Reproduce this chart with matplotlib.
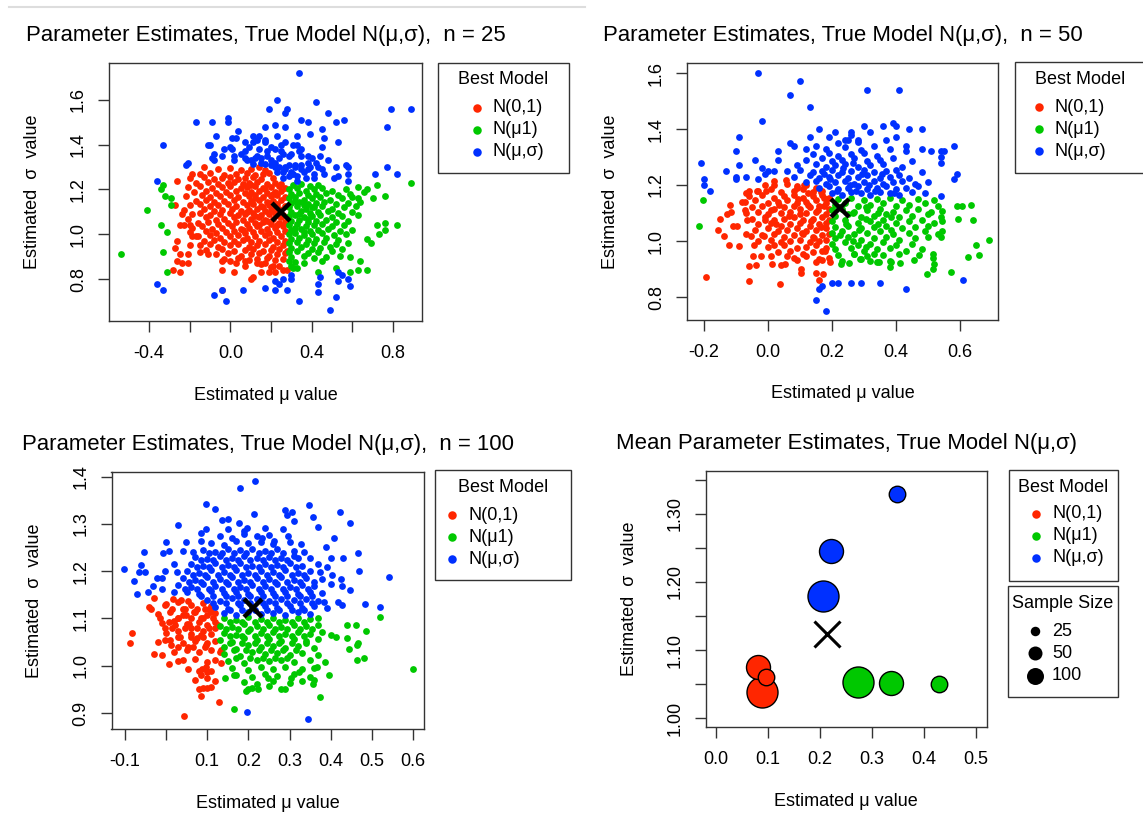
import numpy as np
import matplotlib.pyplot as plt
from matplotlib.patches import Rectangle
from matplotlib.lines import Line2D

plt.rcParams['font.family'] = ['Liberation Sans', 'DejaVu Sans']

W, H = 1143, 814
RED, GREEN, BLUE = '#ff2600', '#00c800', '#0030ff'
model_labels = ['N(0,1)', 'N(\u03bc1)', 'N(\u03bc,\u03c3)']
model_colors = [RED, GREEN, BLUE]

# ---------------- n = 25 ----------------
red_25 = [
    (-0.26, 1.24), (-0.19, 1.27), (-0.13, 1.30), (-0.27, 1.13), (-0.24, 1.09), (-0.25, 1.04), (-0.23, 1.04),
    (-0.20, 1.04), (-0.26, 0.97), (-0.27, 0.94), (-0.25, 0.91), (-0.26, 0.88), (-0.24, 0.87), (-0.21, 0.87),
    (-0.21, 0.91), (-0.28, 0.84), (-0.25, 0.83), (-0.04, 0.84), (0.02, 0.83), (-0.04, 0.75), (0.10, 0.80),
    (0.11, 0.81), (0.15, 0.83), (0.19, 0.83), (0.22, 0.83), (0.26, 0.84), (0.28, 0.84), (0.13, 0.87),
    (0.17, 0.87), (0.21, 0.86), (0.07, 0.88), (0.03, 0.87), (0.00, 0.88), (-0.04, 0.88), (-0.11, 0.91),
    (-0.15, 0.92), (-0.20, 0.95), (-0.19, 0.99), (-0.17, 0.99),
    (-0.06, 1.29), (0.00, 1.295), (0.05, 1.285), (0.10, 1.29), (0.14, 1.30), (0.17, 1.285),
    (-0.15, 1.27), (-0.10, 1.275), (-0.03, 1.265), (0.03, 1.27), (0.08, 1.275), (0.12, 1.265), (0.16, 1.27), (0.19, 1.275),
    (-0.20, 1.25), (-0.13, 1.255), (-0.08, 1.245), (-0.04, 1.25), (0.00, 1.255), (0.04, 1.245), (0.07, 1.25),
    (0.11, 1.255), (0.15, 1.245), (0.21, 1.25),
    (-0.17, 1.23), (-0.11, 1.235), (-0.06, 1.225), (-0.01, 1.23), (0.02, 1.235), (0.06, 1.225), (0.09, 1.23),
    (0.13, 1.235), (0.18, 1.225), (0.22, 1.23), (0.25, 1.225),
    (-0.21, 1.21), (-0.15, 1.215), (-0.09, 1.205), (-0.04, 1.21), (0.00, 1.215), (0.05, 1.205), (0.08, 1.21),
    (0.12, 1.215), (0.16, 1.205), (0.20, 1.21), (0.24, 1.215), (0.27, 1.205),
    (-0.18, 1.19), (-0.12, 1.195), (-0.07, 1.185), (-0.02, 1.19), (0.03, 1.195), (0.07, 1.185), (0.10, 1.19),
    (0.14, 1.195), (0.18, 1.185), (0.22, 1.19), (0.25, 1.195),
    (-0.22, 1.17), (-0.14, 1.175), (-0.10, 1.165), (-0.05, 1.17), (0.00, 1.175), (0.04, 1.165), (0.09, 1.17),
    (0.12, 1.175), (0.16, 1.165), (0.20, 1.17), (0.23, 1.175), (0.27, 1.165),
    (-0.17, 1.15), (-0.12, 1.155), (-0.08, 1.145), (-0.03, 1.15), (0.02, 1.155), (0.06, 1.145), (0.10, 1.15),
    (0.14, 1.155), (0.18, 1.145), (0.21, 1.15), (0.25, 1.155),
    (-0.20, 1.13), (-0.15, 1.135), (-0.10, 1.125), (-0.06, 1.13), (-0.01, 1.135), (0.03, 1.125), (0.08, 1.13),
    (0.11, 1.135), (0.15, 1.125), (0.19, 1.13), (0.23, 1.135), (0.27, 1.125),
    (-0.23, 1.11), (-0.13, 1.115), (-0.08, 1.105), (-0.04, 1.11), (0.01, 1.115), (0.05, 1.105), (0.09, 1.11),
    (0.13, 1.115), (0.17, 1.105), (0.20, 1.11), (0.24, 1.115),
    (-0.19, 1.09), (-0.15, 1.095), (-0.10, 1.085), (-0.05, 1.09), (0.00, 1.095), (0.04, 1.085), (0.07, 1.09),
    (0.11, 1.095), (0.15, 1.085), (0.19, 1.09), (0.22, 1.095), (0.26, 1.085),
    (-0.21, 1.07), (-0.12, 1.075), (-0.07, 1.065), (-0.03, 1.07), (0.02, 1.075), (0.06, 1.065), (0.10, 1.07),
    (0.14, 1.075), (0.17, 1.065), (0.21, 1.07), (0.25, 1.075),
    (-0.16, 1.05), (-0.11, 1.055), (-0.06, 1.045), (-0.01, 1.05), (0.03, 1.055), (0.08, 1.045), (0.12, 1.05),
    (0.16, 1.055), (0.20, 1.045), (0.24, 1.05), (0.27, 1.055),
    (-0.19, 1.03), (-0.14, 1.035), (-0.09, 1.025), (-0.04, 1.03), (0.01, 1.035), (0.05, 1.025), (0.09, 1.03),
    (0.13, 1.035), (0.18, 1.025), (0.22, 1.03), (0.26, 1.035),
    (-0.20, 1.01), (-0.12, 1.015), (-0.07, 1.005), (-0.02, 1.01), (0.02, 1.015), (0.07, 1.005), (0.11, 1.01),
    (0.15, 1.015), (0.19, 1.005), (0.23, 1.01), (0.27, 1.015),
    (-0.16, 0.99), (-0.10, 0.995), (-0.05, 0.985), (0.00, 0.99), (0.04, 0.995), (0.08, 0.985), (0.12, 0.99),
    (0.17, 0.995), (0.21, 0.985), (0.25, 0.99),
    (-0.13, 0.97), (-0.08, 0.975), (-0.03, 0.965), (0.02, 0.97), (0.06, 0.975), (0.10, 0.965), (0.14, 0.97),
    (0.19, 0.975), (0.23, 0.965), (0.27, 0.97),
    (-0.15, 0.95), (-0.10, 0.955), (-0.06, 0.945), (0.00, 0.95), (0.04, 0.955), (0.09, 0.945), (0.13, 0.95),
    (0.17, 0.955), (0.21, 0.945), (0.26, 0.95),
    (-0.12, 0.93), (-0.04, 0.935), (0.02, 0.925), (0.07, 0.93), (0.11, 0.935), (0.16, 0.925), (0.20, 0.93),
    (0.24, 0.935), (0.28, 0.925),
    (-0.07, 0.91), (-0.01, 0.915), (0.05, 0.905), (0.10, 0.91), (0.14, 0.915), (0.19, 0.905), (0.23, 0.91), (0.27, 0.915),
    (-0.03, 0.89), (0.04, 0.895), (0.09, 0.885), (0.13, 0.89), (0.18, 0.895), (0.22, 0.885), (0.26, 0.89),
    (0.07, 0.86), (0.15, 0.865), (0.20, 0.855), (0.24, 0.86),
    (0.12, 1.16), (0.16, 1.12), (0.20, 1.14), (0.08, 1.10), (0.12, 1.08), (0.18, 1.06), (0.22, 1.12),
    (0.14, 1.04), (0.06, 1.02), (0.17, 1.20), (0.10, 1.22), (0.21, 1.18), (0.24, 1.08), (0.23, 1.04),
]
green_25 = [
    (-0.54, 0.91), (-0.41, 1.11), (-0.34, 1.20), (-0.33, 1.22), (-0.32, 1.17), (-0.29, 1.16), (-0.29, 1.13),
    (-0.34, 1.04), (-0.31, 1.01), (-0.33, 0.92), (-0.31, 0.83), (0.89, 1.23), (0.82, 1.04), (0.76, 1.05),
    (0.76, 1.02), (0.72, 1.04), (0.73, 1.00), (0.67, 0.98), (0.69, 0.96), (0.67, 0.84), (0.64, 0.88),
    (0.63, 0.84), (0.59, 0.83), (0.59, 0.90), (0.52, 0.85), (0.43, 0.83), (0.36, 0.87), (0.33, 0.85),
    (0.76, 1.17), (0.72, 1.22), (0.70, 1.16), (0.67, 1.20), (0.66, 1.19), (0.63, 1.21), (0.63, 1.16),
    (0.31, 1.22), (0.35, 1.225), (0.39, 1.215), (0.43, 1.22),
    (0.29, 1.20), (0.33, 1.205), (0.37, 1.195), (0.41, 1.20), (0.45, 1.205), (0.50, 1.195), (0.57, 1.20),
    (0.30, 1.18), (0.34, 1.185), (0.38, 1.175), (0.42, 1.18), (0.47, 1.185), (0.53, 1.175), (0.59, 1.18),
    (0.29, 1.16), (0.32, 1.165), (0.36, 1.155), (0.40, 1.16), (0.44, 1.165), (0.49, 1.155), (0.55, 1.16), (0.60, 1.165),
    (0.30, 1.14), (0.34, 1.145), (0.38, 1.135), (0.42, 1.14), (0.46, 1.145), (0.52, 1.135), (0.58, 1.14), (0.64, 1.145),
    (0.29, 1.12), (0.33, 1.125), (0.37, 1.115), (0.41, 1.12), (0.45, 1.125), (0.50, 1.115), (0.56, 1.12), (0.62, 1.125),
    (0.30, 1.10), (0.35, 1.105), (0.39, 1.095), (0.43, 1.10), (0.48, 1.105), (0.53, 1.095), (0.60, 1.10),
    (0.29, 1.08), (0.32, 1.085), (0.36, 1.075), (0.40, 1.08), (0.44, 1.085), (0.50, 1.075), (0.55, 1.08), (0.63, 1.085),
    (0.30, 1.06), (0.34, 1.065), (0.38, 1.055), (0.42, 1.06), (0.47, 1.065), (0.52, 1.055), (0.58, 1.06),
    (0.29, 1.04), (0.33, 1.045), (0.37, 1.035), (0.41, 1.04), (0.45, 1.045), (0.50, 1.035), (0.56, 1.04),
    (0.30, 1.02), (0.35, 1.025), (0.39, 1.015), (0.43, 1.02), (0.48, 1.025), (0.54, 1.015), (0.60, 1.02),
    (0.29, 1.00), (0.32, 1.005), (0.36, 0.995), (0.40, 1.00), (0.45, 1.005), (0.51, 0.995), (0.57, 1.00),
    (0.30, 0.98), (0.34, 0.985), (0.38, 0.975), (0.42, 0.98), (0.47, 0.985), (0.53, 0.975),
    (0.29, 0.96), (0.33, 0.965), (0.37, 0.955), (0.41, 0.96), (0.46, 0.965), (0.52, 0.955), (0.58, 0.96),
    (0.30, 0.94), (0.35, 0.945), (0.40, 0.935), (0.44, 0.94), (0.49, 0.945), (0.55, 0.935),
    (0.29, 0.92), (0.33, 0.925), (0.38, 0.915), (0.43, 0.92), (0.50, 0.925),
    (0.30, 0.90), (0.36, 0.905), (0.41, 0.895), (0.47, 0.90), (0.54, 0.905),
    (0.29, 0.88), (0.32, 0.875), (0.45, 0.88), (0.30, 0.86), (0.31, 0.85),
    (0.32, 1.15), (0.36, 1.13), (0.34, 1.09), (0.38, 1.07), (0.32, 1.03), (0.36, 1.01), (0.40, 1.12),
]
blue_25 = [
    (0.34, 1.72), (0.23, 1.60), (0.19, 1.56), (0.28, 1.56), (0.27, 1.54), (0.42, 1.59), (0.48, 1.54),
    (0.56, 1.51), (0.52, 1.50), (0.35, 1.51), (0.38, 1.50), (0.79, 1.56), (0.89, 1.56), (0.77, 1.48),
    (-0.17, 1.50), (-0.09, 1.50), (-0.01, 1.52), (-0.01, 1.50), (0.17, 1.48), (0.22, 1.49), (0.27, 1.48),
    (0.04, 1.46), (0.39, 1.45), (0.45, 1.47), (0.46, 1.43), (-0.07, 1.44), (0.11, 1.44), (-0.33, 1.40),
    (-0.11, 1.40), (-0.10, 1.40), (-0.03, 1.38), (0.01, 1.43), (0.03, 1.43), (0.07, 1.41), (0.11, 1.41),
    (0.13, 1.42), (0.17, 1.42), (0.17, 1.41), (0.23, 1.44), (0.25, 1.40), (0.31, 1.40), (0.33, 1.40),
    (0.35, 1.38), (0.45, 1.39), (0.53, 1.41), (-0.08, 1.36), (0.01, 1.38), (0.07, 1.37), (0.14, 1.38),
    (0.18, 1.37), (0.22, 1.38), (0.26, 1.36), (-0.21, 1.32), (-0.22, 1.31), (-0.09, 1.34), (-0.08, 1.33),
    (0.02, 1.35), (0.07, 1.34), (0.10, 1.33), (0.13, 1.35), (0.15, 1.34), (0.20, 1.33), (0.24, 1.34),
    (0.29, 1.35), (0.35, 1.35), (0.38, 1.32), (0.40, 1.34), (0.42, 1.32), (0.11, 1.315), (0.17, 1.315),
    (0.22, 1.30), (0.23, 1.28), (0.27, 1.30), (0.32, 1.31), (0.30, 1.28), (0.35, 1.29), (0.39, 1.30),
    (0.45, 1.29), (0.46, 1.27), (0.52, 1.30), (0.57, 1.31), (0.58, 1.30), (0.71, 1.27), (0.77, 1.30),
    (0.82, 1.27), (0.29, 1.26), (0.33, 1.24), (0.31, 1.27), (0.37, 1.25), (0.41, 1.25), (0.51, 1.25),
    (0.53, 1.26), (0.58, 1.27), (0.58, 1.24), (-0.36, 1.24), (0.26, 1.28),
    (0.30, 0.82), (0.30, 0.80), (0.22, 0.79), (0.24, 0.78), (0.26, 0.80), (-0.36, 0.78), (-0.33, 0.75),
    (0.17, 0.76), (0.22, 0.75), (0.28, 0.75), (0.06, 0.75), (-0.04, 0.75), (-0.08, 0.73), (-0.02, 0.70),
    (0.34, 0.70), (0.49, 0.66), (0.52, 0.72), (0.43, 0.74), (0.43, 0.78), (0.44, 0.81), (0.53, 0.83),
    (0.55, 0.82), (0.53, 0.79), (0.58, 0.80), (0.59, 0.77),
    (0.20, 1.31), (0.24, 1.30), (0.27, 1.29), (0.30, 1.27), (0.33, 1.26), (0.36, 1.28), (0.26, 1.25),
    (0.22, 1.32), (0.29, 1.31), (0.32, 1.30), (0.35, 1.31), (0.38, 1.29), (0.41, 1.27), (0.43, 1.30),
    (0.15, 1.32), (0.12, 1.34), (0.18, 1.35), (0.08, 1.33), (0.05, 1.36), (0.02, 1.33), (0.20, 1.39),
    (0.25, 1.37), (0.30, 1.36), (0.34, 1.37), (0.38, 1.35), (0.44, 1.35), (0.48, 1.33), (0.27, 1.41),
    (0.33, 1.44), (0.14, 1.44), (0.09, 1.39), (-0.04, 1.35), (0.00, 1.39),
]
truth_25 = (0.247, 1.100)

# ---------------- n = 50 ----------------
red_50 = [
    (-0.194, 0.872), (-0.058, 0.859), (0.039, 0.848), (-0.151, 1.08), (-0.128, 1.097), (-0.156, 1.041),
    (-0.138, 1.017), (-0.123, 0.986), (-0.09, 0.984), (-0.109, 1.053), (-0.097, 1.053), (-0.118, 1.13),
    (-0.114, 1.103), (-0.068, 1.172), (-0.06, 1.178), (-0.034, 1.179), (-0.072, 1.138), (-0.072, 1.112),
    (-0.066, 1.076), (-0.07, 1.026), (-0.053, 1.017), (-0.045, 0.987), (-0.048, 0.946), (-0.058, 0.912),
    (-0.036, 0.916), (-0.022, 0.948), (-0.011, 1.017), (0.01, 0.946), (0.013, 0.917), (0.042, 0.916),
    (0.054, 0.919), (0.06, 0.946), (0.018, 0.986), (0.091, 0.931), (0.102, 0.901), (0.104, 0.886),
    (0.15, 0.886), (0.172, 0.881), (0.161, 0.86), (0.15, 0.924), (0.169, 0.934), (0.195, 0.924),
    (0.179, 0.963), (-0.01, 1.201), (-0.005, 1.178), (0.018, 1.213), (0.057, 1.219), (0.091, 1.19),
    (0.112, 1.201), (0.149, 1.188), (0.167, 1.174), (0.174, 1.154), (-0.008, 1.076), (0.011, 1.112),
    (0.02, 1.20), (0.06, 1.205), (0.09, 1.195), (0.12, 1.20),
    (-0.03, 1.18), (0.01, 1.185), (0.04, 1.175), (0.08, 1.18), (0.11, 1.185), (0.14, 1.175), (0.17, 1.18),
    (-0.06, 1.16), (-0.02, 1.165), (0.02, 1.155), (0.05, 1.16), (0.08, 1.165), (0.11, 1.155), (0.14, 1.16),
    (0.17, 1.165), (0.19, 1.155),
    (-0.08, 1.14), (-0.04, 1.145), (0.00, 1.135), (0.03, 1.14), (0.06, 1.145), (0.09, 1.135), (0.12, 1.14),
    (0.15, 1.145), (0.18, 1.135),
    (-0.05, 1.12), (-0.02, 1.125), (0.02, 1.115), (0.05, 1.12), (0.08, 1.125), (0.10, 1.115), (0.13, 1.12),
    (0.16, 1.125), (0.19, 1.115),
    (-0.07, 1.10), (-0.03, 1.105), (0.00, 1.095), (0.04, 1.10), (0.07, 1.105), (0.10, 1.095), (0.12, 1.10),
    (0.15, 1.105), (0.18, 1.095),
    (-0.05, 1.08), (-0.01, 1.085), (0.02, 1.075), (0.05, 1.08), (0.08, 1.085), (0.11, 1.075), (0.14, 1.08),
    (0.17, 1.085), (0.19, 1.075),
    (-0.03, 1.06), (0.01, 1.065), (0.04, 1.055), (0.07, 1.06), (0.10, 1.065), (0.13, 1.055), (0.16, 1.06), (0.18, 1.065),
    (-0.04, 1.04), (0.00, 1.045), (0.03, 1.035), (0.06, 1.04), (0.09, 1.045), (0.12, 1.035), (0.15, 1.04), (0.18, 1.045),
    (-0.02, 1.02), (0.02, 1.025), (0.05, 1.015), (0.08, 1.02), (0.11, 1.025), (0.14, 1.015), (0.17, 1.02), (0.19, 1.025),
    (-0.03, 1.00), (0.01, 1.005), (0.04, 0.995), (0.07, 1.00), (0.10, 1.005), (0.13, 0.995), (0.16, 1.00), (0.18, 1.005),
    (0.00, 0.98), (0.05, 0.985), (0.09, 0.975), (0.12, 0.98), (0.15, 0.985), (0.18, 0.975),
    (0.03, 0.96), (0.07, 0.965), (0.11, 0.955), (0.14, 0.96), (0.17, 0.965),
    (0.08, 0.94), (0.12, 0.945), (0.16, 0.935), (0.19, 0.94),
    (0.095, 1.15), (0.125, 1.13), (0.155, 1.11), (0.065, 1.09), (0.135, 1.07), (0.165, 1.05), (0.105, 1.03),
    (0.145, 1.01), (0.035, 1.13), (0.175, 1.125), (0.025, 1.06), (0.125, 1.17),
]
green_50 = [
    (-0.204, 1.146), (-0.214, 1.053), (0.591, 1.124), (0.606, 1.124), (0.636, 1.13), (0.593, 1.08),
    (0.641, 1.076), (0.691, 1.004), (0.65, 0.986), (0.66, 0.949), (0.626, 0.942), (0.573, 0.888),
    (0.515, 0.953), (0.516, 0.94), (0.518, 0.918), (0.515, 0.90), (0.497, 0.884), (0.541, 1.015),
    (0.545, 1.035), (0.545, 1.071), (0.545, 1.109), (0.518, 1.148), (0.472, 0.95), (0.455, 0.931),
    (0.414, 0.922), (0.382, 0.907), (0.384, 0.924), (0.346, 0.924), (0.318, 0.929), (0.289, 0.935),
    (0.252, 0.922), (0.228, 0.918), (0.268, 0.955), (0.332, 0.955),
    (0.22, 1.15), (0.26, 1.155), (0.30, 1.145), (0.34, 1.15), (0.38, 1.155), (0.42, 1.145), (0.47, 1.15),
    (0.21, 1.13), (0.24, 1.135), (0.28, 1.125), (0.32, 1.13), (0.36, 1.135), (0.40, 1.125), (0.44, 1.13),
    (0.49, 1.135), (0.53, 1.125),
    (0.20, 1.11), (0.23, 1.115), (0.27, 1.105), (0.31, 1.11), (0.35, 1.115), (0.39, 1.105), (0.43, 1.11),
    (0.47, 1.115), (0.51, 1.105),
    (0.21, 1.09), (0.25, 1.095), (0.29, 1.085), (0.33, 1.09), (0.37, 1.095), (0.41, 1.085), (0.45, 1.09),
    (0.50, 1.095), (0.54, 1.085),
    (0.20, 1.07), (0.24, 1.075), (0.28, 1.065), (0.32, 1.07), (0.36, 1.075), (0.40, 1.065), (0.44, 1.07),
    (0.48, 1.075), (0.52, 1.065),
    (0.21, 1.05), (0.25, 1.055), (0.29, 1.045), (0.33, 1.05), (0.37, 1.055), (0.42, 1.045), (0.46, 1.05), (0.50, 1.055),
    (0.20, 1.03), (0.23, 1.035), (0.27, 1.025), (0.31, 1.03), (0.35, 1.035), (0.39, 1.025), (0.44, 1.03),
    (0.49, 1.035), (0.53, 1.025),
    (0.21, 1.01), (0.25, 1.015), (0.29, 1.005), (0.33, 1.01), (0.37, 1.015), (0.41, 1.005), (0.46, 1.01), (0.50, 1.015),
    (0.20, 0.99), (0.24, 0.995), (0.28, 0.985), (0.32, 0.99), (0.36, 0.995), (0.40, 0.985), (0.45, 0.99),
    (0.21, 0.97), (0.26, 0.975), (0.30, 0.965), (0.34, 0.97), (0.38, 0.975), (0.43, 0.965), (0.48, 0.97),
    (0.22, 0.95), (0.27, 0.955), (0.31, 0.945), (0.36, 0.95), (0.41, 0.955),
    (0.23, 0.93), (0.29, 0.935), (0.34, 0.925), (0.38, 0.93),
    (0.225, 1.12), (0.265, 1.10), (0.305, 1.08), (0.245, 1.06), (0.285, 1.04), (0.225, 1.02), (0.265, 1.00),
    (0.305, 1.12), (0.345, 1.10), (0.345, 1.06), (0.385, 1.04), (0.305, 0.98), (0.385, 1.085),
]
blue_50 = [
    (-0.03, 1.60), (0.10, 1.57), (0.07, 1.52), (0.13, 1.48), (0.31, 1.54), (0.41, 1.54), (-0.02, 1.43),
    (-0.09, 1.37), (-0.10, 1.32), (-0.21, 1.28), (-0.20, 1.22), (-0.20, 1.20), (-0.18, 1.18), (-0.13, 1.25),
    (-0.09, 1.27), (-0.10, 1.23), (-0.10, 1.22), (-0.07, 1.23), (-0.04, 1.29), (-0.02, 1.26), (-0.01, 1.24),
    (-0.03, 1.22), (0.00, 1.25), (0.02, 1.25), (0.03, 1.32), (0.03, 1.29), (0.07, 1.35), (0.08, 1.34),
    (0.12, 1.33), (0.13, 1.37), (0.16, 1.40), (0.15, 1.34), (0.19, 1.37), (0.21, 1.39), (0.24, 1.36),
    (0.25, 1.36), (0.26, 1.38), (0.26, 1.39), (0.28, 1.36), (0.30, 1.41), (0.32, 1.39), (0.33, 1.34),
    (0.36, 1.41), (0.39, 1.42), (0.40, 1.41), (0.40, 1.37), (0.37, 1.36), (0.43, 1.34), (0.43, 1.32),
    (0.44, 1.40), (0.48, 1.40), (0.48, 1.33), (0.51, 1.32), (0.54, 1.32), (0.55, 1.32), (0.58, 1.34),
    (0.54, 1.28), (0.54, 1.30), (0.58, 1.22), (0.59, 1.24), (0.54, 1.16), (0.61, 0.86), (0.43, 0.83),
    (0.35, 0.85), (0.29, 0.85), (0.26, 0.85), (0.22, 0.85), (0.20, 0.85), (0.17, 0.84), (0.16, 0.83),
    (0.15, 0.79), (0.18, 0.75),
    (0.20, 1.17), (0.23, 1.165), (0.26, 1.175), (0.29, 1.17), (0.32, 1.165), (0.35, 1.175), (0.38, 1.17),
    (0.41, 1.165), (0.45, 1.175), (0.49, 1.17),
    (0.16, 1.19), (0.19, 1.195), (0.22, 1.185), (0.25, 1.19), (0.28, 1.195), (0.31, 1.185), (0.34, 1.19),
    (0.37, 1.195), (0.40, 1.185), (0.43, 1.19), (0.47, 1.195),
    (0.12, 1.21), (0.15, 1.215), (0.18, 1.205), (0.21, 1.21), (0.24, 1.215), (0.27, 1.205), (0.30, 1.21),
    (0.33, 1.215), (0.36, 1.205), (0.39, 1.21), (0.42, 1.215), (0.46, 1.205), (0.50, 1.21),
    (0.08, 1.23), (0.13, 1.235), (0.16, 1.225), (0.19, 1.23), (0.22, 1.235), (0.25, 1.225), (0.28, 1.23),
    (0.31, 1.235), (0.35, 1.225), (0.38, 1.23), (0.41, 1.235), (0.44, 1.225),
    (0.06, 1.25), (0.10, 1.255), (0.14, 1.245), (0.17, 1.25), (0.20, 1.255), (0.23, 1.245), (0.26, 1.25),
    (0.30, 1.255), (0.33, 1.245), (0.37, 1.25), (0.40, 1.255), (0.48, 1.245),
    (0.09, 1.27), (0.15, 1.275), (0.18, 1.265), (0.21, 1.27), (0.24, 1.275), (0.28, 1.265), (0.32, 1.27),
    (0.36, 1.275), (0.42, 1.265),
    (0.12, 1.29), (0.17, 1.295), (0.20, 1.285), (0.23, 1.29), (0.27, 1.295), (0.31, 1.285), (0.35, 1.29),
    (0.39, 1.295), (0.45, 1.285),
    (0.14, 1.31), (0.19, 1.315), (0.22, 1.305), (0.26, 1.31), (0.30, 1.315), (0.34, 1.305),
    (0.18, 1.33), (0.24, 1.335), (0.29, 1.325), (0.38, 1.33), (0.22, 1.35), (0.28, 1.355),
    (0.215, 1.18), (0.275, 1.18), (0.335, 1.18), (0.195, 1.22), (0.255, 1.20), (0.315, 1.20), (0.235, 1.26),
    (0.295, 1.24), (0.355, 1.24), (0.265, 1.28), (0.175, 1.24), (0.395, 1.17),
]
truth_50 = (0.226, 1.118)

# ---------------- n = 100 ----------------
red_100 = [
    (-0.082, 1.069), (-0.088, 1.049), (-0.029, 1.144), (-0.041, 1.124), (-0.036, 1.121), (-0.015, 1.10),
    (-0.03, 1.024), (-0.01, 1.022), (0.006, 1.004), (0.041, 1.012), (0.053, 0.993), (0.079, 0.988),
    (0.087, 0.993), (0.098, 0.998), (0.09, 0.952), (0.086, 0.936), (0.099, 0.952), (0.128, 0.923),
    (0.043, 0.893), (0.118, 0.967), (0.11, 0.988), (0.133, 1.005), (0.13, 1.029), (0.134, 1.034),
    (-0.002, 1.079), (-0.002, 1.054), (-0.003, 1.128), (0.017, 1.142), (0.037, 1.139), (0.053, 1.137),
    (0.006, 1.093), (0.021, 1.087), (0.033, 1.061), (0.013, 1.043), (0.053, 1.04), (0.074, 1.058),
    (0.061, 1.079), (0.084, 1.065), (0.096, 1.043), (0.086, 1.10), (0.108, 1.114), (0.095, 1.121),
    (0.118, 1.079), (0.126, 1.086), (0.114, 1.10), (0.069, 1.114), (0.049, 1.107), (0.041, 1.121),
    (0.055, 1.089), (0.029, 1.10), (0.10, 0.987), (0.086, 0.98),
    (0.00, 1.13), (0.03, 1.134), (0.06, 1.128), (0.09, 1.133), (0.11, 1.127),
    (-0.02, 1.11), (0.01, 1.114), (0.04, 1.108), (0.07, 1.113), (0.10, 1.107), (0.12, 1.112),
    (-0.01, 1.09), (0.02, 1.094), (0.05, 1.088), (0.08, 1.093), (0.10, 1.087), (0.12, 1.092),
    (0.00, 1.07), (0.03, 1.074), (0.06, 1.068), (0.09, 1.073), (0.11, 1.067),
    (-0.02, 1.05), (0.01, 1.054), (0.04, 1.048), (0.07, 1.053), (0.10, 1.047), (0.12, 1.052),
    (0.02, 1.03), (0.05, 1.034), (0.08, 1.028), (0.11, 1.033),
    (0.03, 1.01), (0.07, 1.014), (0.10, 1.008), (0.12, 1.013),
    (0.07, 0.97), (0.10, 0.974), (0.08, 0.95), (0.11, 0.954),
    (0.015, 1.12), (0.045, 1.12), (0.075, 1.12), (0.105, 1.12), (0.03, 1.10), (0.06, 1.10), (0.09, 1.10),
    (0.015, 1.08), (0.045, 1.08), (0.075, 1.08), (0.105, 1.08), (0.03, 1.06), (0.06, 1.06), (0.09, 1.06),
    (0.03, 1.04), (0.065, 1.04), (0.095, 1.04),
]
green_100 = [
    (0.60, 0.992), (0.519, 1.104), (0.44, 1.086), (0.462, 1.087), (0.485, 1.074), (0.467, 1.048),
    (0.463, 1.043), (0.445, 1.036), (0.439, 1.059), (0.414, 1.06), (0.40, 1.066), (0.48, 1.017),
    (0.463, 1.013), (0.397, 0.981), (0.375, 0.933), (0.386, 1.007), (0.366, 0.997), (0.165, 0.908),
    (0.144, 0.975), (0.165, 0.981), (0.199, 0.951), (0.195, 0.947), (0.223, 0.951), (0.247, 0.973),
    (0.288, 0.951), (0.304, 0.973), (0.356, 0.961), (0.359, 0.97), (0.324, 0.987),
    (0.14, 1.10), (0.17, 1.096), (0.20, 1.103), (0.23, 1.099), (0.26, 1.102), (0.29, 1.097), (0.32, 1.101),
    (0.35, 1.098), (0.37, 1.102),
    (0.13, 1.085), (0.16, 1.081), (0.19, 1.088), (0.22, 1.084), (0.25, 1.087), (0.28, 1.082), (0.31, 1.086),
    (0.34, 1.083), (0.37, 1.087),
    (0.14, 1.07), (0.17, 1.066), (0.20, 1.073), (0.23, 1.069), (0.26, 1.072), (0.29, 1.067), (0.32, 1.071),
    (0.35, 1.068), (0.38, 1.072),
    (0.13, 1.055), (0.16, 1.051), (0.19, 1.058), (0.22, 1.054), (0.25, 1.057), (0.28, 1.052), (0.31, 1.056),
    (0.34, 1.053), (0.37, 1.057),
    (0.14, 1.04), (0.17, 1.036), (0.20, 1.043), (0.23, 1.039), (0.26, 1.042), (0.29, 1.037), (0.32, 1.041), (0.36, 1.038),
    (0.14, 1.025), (0.18, 1.021), (0.21, 1.028), (0.24, 1.024), (0.27, 1.027), (0.30, 1.022), (0.33, 1.026), (0.37, 1.023),
    (0.15, 1.01), (0.19, 1.006), (0.22, 1.013), (0.25, 1.009), (0.28, 1.012), (0.31, 1.007), (0.35, 1.011),
    (0.16, 0.995), (0.20, 0.991), (0.23, 0.998), (0.26, 0.994), (0.29, 0.997), (0.33, 0.992), (0.36, 0.996),
    (0.17, 0.98), (0.21, 0.976), (0.24, 0.983), (0.27, 0.979), (0.31, 0.982), (0.35, 0.977),
    (0.19, 0.965), (0.22, 0.961), (0.26, 0.968), (0.30, 0.964), (0.33, 0.967),
    (0.21, 0.952), (0.25, 0.956), (0.28, 0.951),
    (0.155, 1.093), (0.185, 1.093), (0.215, 1.093), (0.245, 1.093), (0.275, 1.093), (0.305, 1.093), (0.335, 1.093),
    (0.145, 1.078), (0.175, 1.078), (0.205, 1.078), (0.235, 1.078), (0.265, 1.078), (0.295, 1.078), (0.325, 1.078),
    (0.355, 1.078),
    (0.155, 1.063), (0.185, 1.063), (0.215, 1.063), (0.245, 1.063), (0.275, 1.063), (0.305, 1.063), (0.335, 1.063),
    (0.155, 1.048), (0.185, 1.048), (0.215, 1.048), (0.245, 1.048), (0.275, 1.048), (0.305, 1.048), (0.34, 1.048),
    (0.165, 1.033), (0.195, 1.033), (0.225, 1.033), (0.255, 1.033), (0.285, 1.033), (0.315, 1.033),
    (0.17, 1.017), (0.205, 1.017), (0.235, 1.017), (0.265, 1.017), (0.295, 1.017),
]
blue_100 = [
    (0.216, 1.392), (0.18, 1.377), (0.098, 1.342), (0.118, 1.331), (0.213, 1.322), (0.289, 1.329),
    (0.294, 1.32), (0.305, 1.326), (0.31, 1.306), (0.348, 1.34), (0.423, 1.326), (0.356, 1.314),
    (0.369, 1.293), (0.446, 1.303), (0.285, 1.289), (0.029, 1.298), (0.136, 1.308), (0.15, 1.31),
    (0.176, 1.303), (0.096, 1.289), (0.196, 1.291), (-0.053, 1.241), (-0.103, 1.204), (-0.078, 1.18),
    (-0.072, 1.151), (-0.06, 1.213), (-0.066, 1.199), (-0.052, 1.199), (-0.045, 1.155), (-0.032, 1.168),
    (-0.009, 1.163), (0.00, 1.261), (-0.007, 1.239), (0.006, 1.243), (-0.021, 1.186), (-0.011, 1.185),
    (-0.003, 1.20), (0.019, 1.215), (0.018, 1.155), (0.042, 1.243), (0.065, 1.24), (0.084, 1.265),
    (0.084, 1.281), (0.466, 1.239), (0.47, 1.20), (0.542, 1.187), (0.521, 1.124), (0.484, 1.131),
    (0.447, 1.16), (0.409, 1.271), (0.389, 1.252), (0.429, 1.229), (0.401, 1.229), (0.39, 1.208),
    (0.403, 1.193), (0.425, 1.183), (0.427, 1.169), (0.417, 1.135), (0.428, 1.128), (0.385, 1.135),
    (0.373, 1.199), (0.32, 1.228), (0.335, 1.241), (0.328, 1.257), (0.297, 1.275), (0.262, 1.264),
    (0.234, 1.27), (0.049, 1.261), (0.026, 1.199), (0.197, 0.901), (0.346, 0.887),
    (0.14, 1.112), (0.17, 1.108), (0.20, 1.113), (0.23, 1.109), (0.26, 1.112), (0.29, 1.108), (0.32, 1.113), (0.35, 1.109),
    (0.12, 1.125), (0.15, 1.121), (0.18, 1.128), (0.21, 1.124), (0.24, 1.127), (0.27, 1.122), (0.30, 1.126),
    (0.33, 1.123), (0.36, 1.127), (0.39, 1.122),
    (0.10, 1.14), (0.13, 1.136), (0.16, 1.143), (0.19, 1.139), (0.22, 1.142), (0.25, 1.137), (0.28, 1.141),
    (0.31, 1.138), (0.34, 1.142), (0.37, 1.137),
    (0.05, 1.155), (0.08, 1.151), (0.11, 1.158), (0.14, 1.154), (0.17, 1.157), (0.20, 1.152), (0.23, 1.156),
    (0.26, 1.153), (0.29, 1.157), (0.32, 1.152), (0.35, 1.156), (0.38, 1.153),
    (0.03, 1.17), (0.06, 1.166), (0.09, 1.173), (0.12, 1.169), (0.15, 1.172), (0.18, 1.167), (0.21, 1.171),
    (0.24, 1.168), (0.27, 1.172), (0.30, 1.167), (0.33, 1.171), (0.36, 1.168), (0.40, 1.172),
    (0.04, 1.185), (0.07, 1.181), (0.10, 1.188), (0.13, 1.184), (0.16, 1.187), (0.19, 1.182), (0.22, 1.186),
    (0.25, 1.183), (0.28, 1.187), (0.31, 1.182), (0.34, 1.186), (0.38, 1.183),
    (0.05, 1.20), (0.08, 1.196), (0.11, 1.203), (0.14, 1.199), (0.17, 1.202), (0.20, 1.197), (0.23, 1.201),
    (0.26, 1.198), (0.29, 1.202), (0.32, 1.197), (0.35, 1.201),
    (0.06, 1.215), (0.09, 1.211), (0.12, 1.218), (0.15, 1.214), (0.18, 1.217), (0.21, 1.212), (0.24, 1.216),
    (0.27, 1.213), (0.30, 1.217), (0.33, 1.212), (0.37, 1.216),
    (0.07, 1.23), (0.10, 1.226), (0.13, 1.233), (0.16, 1.229), (0.19, 1.232), (0.22, 1.227), (0.25, 1.231),
    (0.28, 1.228), (0.31, 1.232), (0.35, 1.227),
    (0.09, 1.245), (0.12, 1.241), (0.15, 1.248), (0.18, 1.244), (0.21, 1.247), (0.24, 1.242), (0.27, 1.246), (0.31, 1.243),
    (0.11, 1.26), (0.14, 1.256), (0.17, 1.263), (0.20, 1.259), (0.23, 1.262), (0.26, 1.257), (0.30, 1.261),
    (0.13, 1.275), (0.16, 1.271), (0.19, 1.278), (0.22, 1.274), (0.25, 1.277),
    (0.15, 1.29), (0.19, 1.286), (0.24, 1.292),
    (0.155, 1.118), (0.185, 1.118), (0.215, 1.118), (0.245, 1.118), (0.275, 1.118), (0.305, 1.118), (0.335, 1.118),
    (0.115, 1.133), (0.145, 1.133), (0.175, 1.133), (0.205, 1.133), (0.235, 1.133), (0.265, 1.133), (0.295, 1.133),
    (0.325, 1.133), (0.355, 1.133),
    (0.085, 1.148), (0.115, 1.148), (0.145, 1.148), (0.175, 1.148), (0.205, 1.148), (0.235, 1.148), (0.265, 1.148),
    (0.295, 1.148), (0.325, 1.148), (0.355, 1.148),
    (0.045, 1.163), (0.075, 1.163), (0.105, 1.163), (0.135, 1.163), (0.165, 1.163), (0.195, 1.163), (0.225, 1.163),
    (0.255, 1.163), (0.285, 1.163), (0.315, 1.163), (0.345, 1.163),
    (0.055, 1.178), (0.085, 1.178), (0.115, 1.178), (0.145, 1.178), (0.175, 1.178), (0.205, 1.178), (0.235, 1.178),
    (0.265, 1.178), (0.295, 1.178), (0.325, 1.178), (0.36, 1.178),
    (0.065, 1.193), (0.095, 1.193), (0.125, 1.193), (0.155, 1.193), (0.185, 1.193), (0.215, 1.193), (0.245, 1.193),
    (0.275, 1.193), (0.305, 1.193), (0.335, 1.193),
    (0.075, 1.208), (0.105, 1.208), (0.135, 1.208), (0.165, 1.208), (0.195, 1.208), (0.225, 1.208), (0.255, 1.208),
    (0.285, 1.208), (0.315, 1.208),
    (0.085, 1.223), (0.115, 1.223), (0.145, 1.223), (0.175, 1.223), (0.205, 1.223), (0.235, 1.223), (0.265, 1.223),
    (0.295, 1.223),
    (0.105, 1.238), (0.135, 1.238), (0.165, 1.238), (0.195, 1.238), (0.225, 1.238), (0.255, 1.238), (0.285, 1.238),
]
truth_100 = (0.211, 1.122)

# ---------------- mean estimates ----------------
sample_sizes = [25, 50, 100]
mean_mu_red = [0.096, 0.080, 0.089]
mean_sigma_red = [1.061, 1.075, 1.039]
mean_mu_green = [0.429, 0.336, 0.273]
mean_sigma_green = [1.050, 1.052, 1.053]
mean_mu_blue = [0.348, 0.222, 0.206]
mean_sigma_blue = [1.329, 1.245, 1.179]
truth_mean = (0.213, 1.123)

fig = plt.figure(figsize=(W / 100, H / 100), dpi=100)


def px_axes(x0, y0, x1, y1):
    return fig.add_axes([x0 / W, 1 - y1 / H, (x1 - x0) / W, (y1 - y0) / H])


def fx(x):
    return x / W


def fy(y):
    return 1 - y / H


def style_axes(ax, title, xlim, ylim, xticks, xlabels, yticks, ylabels, box_w, box_h):
    ax.set_xlim(*xlim)
    ax.set_ylim(*ylim)
    ax.set_xticks(xticks)
    ax.set_xticklabels(xlabels)
    ax.set_yticks(yticks)
    ax.set_yticklabels(ylabels, rotation=90, va='center')
    ax.tick_params(axis='both', direction='out', length=8, width=1, color='#333333', labelsize=13)
    ax.tick_params(axis='x', pad=9)
    ax.tick_params(axis='y', pad=8)
    for s in ax.spines.values():
        s.set_color('#333333')
        s.set_linewidth(1)
    ax.set_title(title, fontsize=15.9, pad=16)
    ax.set_xlabel('Estimated \u03bc value', fontsize=13, va='center')
    ax.xaxis.set_label_coords(0.5, -74 / box_h)
    ax.set_ylabel('Estimated  \u03c3  value', fontsize=13, va='center', ha='center')
    ax.yaxis.set_label_coords(-76.5 / box_w, 0.5)


def legend_box(x0, y0, x1, y1, title, title_y, labels, colors, dot_x, text_x, ys, dot_px):
    fig.add_artist(Rectangle((fx(x0), fy(y1)), (x1 - x0) / W, (y1 - y0) / H, transform=fig.transFigure,
                             fill=False, edgecolor='#333333', linewidth=1))
    fig.text(fx((x0 + x1) / 2), fy(title_y), title, ha='center', va='center', fontsize=13)
    for lab, col, y, d in zip(labels, colors, ys, dot_px):
        fig.add_artist(Line2D([fx(dot_x)], [fy(y)], marker='o', markersize=d * 0.72, color=col,
                              markeredgewidth=0, linestyle='none', transform=fig.transFigure))
        fig.text(fx(text_x), fy(y), lab, ha='left', va='center', fontsize=13)


def scatter_panel(ax, red, green, blue, truth):
    for pts, col in [(red, RED), (green, GREEN), (blue, BLUE)]:
        arr = np.array(pts)
        ax.scatter(arr[:, 0], arr[:, 1], s=24, color=col, linewidths=0, zorder=2)
    ax.plot(truth[0], truth[1], marker='x', markersize=13, markeredgewidth=3.2, color='black', zorder=3)


# panel 1
ax1 = px_axes(109, 63, 422, 321)
scatter_panel(ax1, red_25, green_25, blue_25, truth_25)
style_axes(ax1, 'Parameter Estimates, True Model N(\u03bc,\u03c3),  n = 25', (-0.597, 0.943), (0.6125, 1.765),
           [-0.4, -0.2, 0.0, 0.2, 0.4, 0.6, 0.8], ['-0.4', '', '0.0', '', '0.4', '', '0.8'],
           [0.8, 1.0, 1.2, 1.4, 1.6], ['0.8', '1.0', '1.2', '1.4', '1.6'], 313, 258)
legend_box(438, 63, 569, 173, 'Best Model', 80, model_labels, model_colors, 477, 493, [108, 130, 152], [8.5] * 3)

# panel 2
ax2 = px_axes(687, 63, 998, 320)
scatter_panel(ax2, red_50, green_50, blue_50, truth_50)
style_axes(ax2, 'Parameter Estimates, True Model N(\u03bc,\u03c3),  n = 50', (-0.253, 0.719), (0.718, 1.636),
           [-0.2, 0.0, 0.2, 0.4, 0.6], ['-0.2', '0.0', '0.2', '0.4', '0.6'],
           [0.8, 1.0, 1.2, 1.4, 1.6], ['0.8', '1.0', '1.2', '1.4', '1.6'], 311, 257)
legend_box(1015, 62, 1146, 173, 'Best Model', 79, model_labels, model_colors, 1038.5, 1055, [107, 129, 151], [8.5] * 3)

# panel 3
ax3 = px_axes(111.5, 472, 424, 729)
scatter_panel(ax3, red_100, green_100, blue_100, truth_100)
style_axes(ax3, 'Parameter Estimates, True Model N(\u03bc,\u03c3),  n = 100', (-0.1328, 0.627), (0.866, 1.41),
           [-0.1, 0.0, 0.1, 0.2, 0.3, 0.4, 0.5, 0.6], ['-0.1', '', '0.1', '0.2', '0.3', '0.4', '0.5', '0.6'],
           [0.9, 1.0, 1.1, 1.2, 1.3, 1.4], ['0.9', '1.0', '1.1', '1.2', '1.3', '1.4'], 312.5, 257)
legend_box(435, 470, 571, 580, 'Best Model', 488, model_labels, model_colors, 452, 469, [515, 537, 559], [8.5] * 3)

# panel 4
circle_px = [16.5, 24, 31]
ax4 = px_axes(706, 471, 986.5, 727)
for mus, sigmas, col in [(mean_mu_red, mean_sigma_red, RED), (mean_mu_green, mean_sigma_green, GREEN),
                         (mean_mu_blue, mean_sigma_blue, BLUE)]:
    for i in [2, 1, 0]:
        ax4.scatter(mus[i], sigmas[i], s=(circle_px[i] * 0.72) ** 2, color=col, edgecolors='black',
                    linewidths=1, zorder=2)
ax4.plot(truth_mean[0], truth_mean[1], marker='x', markersize=19, markeredgewidth=2.2, color='black', zorder=3)
style_axes(ax4, 'Mean Parameter Estimates, True Model N(\u03bc,\u03c3)', (-0.019, 0.52), (0.987, 1.363),
           [0.0, 0.1, 0.2, 0.3, 0.4, 0.5], ['0.0', '0.1', '0.2', '0.3', '0.4', '0.5'],
           [1.00, 1.05, 1.10, 1.15, 1.20, 1.25, 1.30, 1.35], ['1.00', '', '1.10', '', '1.20', '', '1.30', ''],
           280.5, 256)
legend_box(1009, 470, 1118, 581, 'Best Model', 487, model_labels, model_colors, 1036, 1053, [514, 536, 558], [8.5] * 3)
legend_box(1008, 586, 1118, 697, 'Sample Size', 603, [str(n) for n in sample_sizes], ['black'] * 3,
           1035, 1052, [631, 653, 676], [9.5, 14, 17])

# thin grey rule at the very top of the screenshot
fig.add_artist(Line2D([fx(9), fx(585)], [fy(7), fy(7)], color='#dddddd', linewidth=1.5, transform=fig.transFigure))

fig.savefig('out.png', dpi=100)
